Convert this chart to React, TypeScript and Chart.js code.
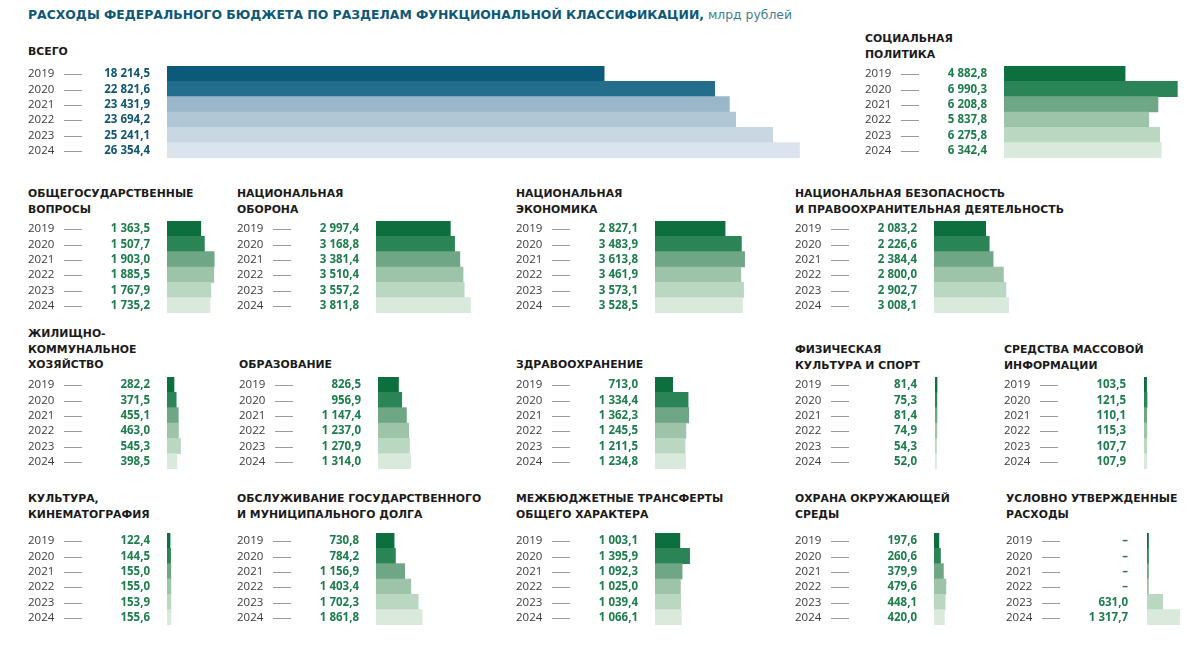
import React, { useEffect, useRef } from "react";
import { Chart, registerables } from "chart.js";

Chart.register(...registerables);

// ---------- DATA ----------
const years = ["2019", "2020", "2021", "2022", "2023", "2024"];
const totalValues = [18214.5, 22821.6, 23431.9, 23694.2, 25241.1, 26354.4];
const socialValues = [4882.8, 6990.3, 6208.8, 5837.8, 6275.8, 6342.4];
const generalValues = [1363.5, 1507.7, 1903.0, 1885.5, 1767.9, 1735.2];
const defenseValues = [2997.4, 3168.8, 3381.4, 3510.4, 3557.2, 3811.8];
const economyValues = [2827.1, 3483.9, 3613.8, 3461.9, 3573.1, 3528.5];
const securityValues = [2083.2, 2226.6, 2384.4, 2800.0, 2902.7, 3008.1];
const housingValues = [282.2, 371.5, 455.1, 463.0, 545.3, 398.5];
const educationValues = [826.5, 956.9, 1147.4, 1237.0, 1270.9, 1314.0];
const healthValues = [713.0, 1334.4, 1362.3, 1245.5, 1211.5, 1234.8];
const sportValues = [81.4, 75.3, 81.4, 74.9, 54.3, 52.0];
const mediaValues = [103.5, 121.5, 110.1, 115.3, 107.7, 107.9];
const cultureValues = [122.4, 144.5, 155.0, 155.0, 153.9, 155.6];
const debtValues = [730.8, 784.2, 1156.9, 1403.4, 1702.3, 1861.8];
const transfersValues = [1003.1, 1395.9, 1092.3, 1025.0, 1039.4, 1066.1];
const environmentValues = [197.6, 260.6, 379.9, 479.6, 448.1, 420.0];
const reservedValues: (number | null)[] = [null, null, null, null, 631.0, 1317.7];

const mainTitle = "РАСХОДЫ ФЕДЕРАЛЬНОГО БЮДЖЕТА ПО РАЗДЕЛАМ ФУНКЦИОНАЛЬНОЙ КЛАССИФИКАЦИИ,";
const unitText = " млрд рублей";

// ---------- STYLE ----------
const greenPalette = ["#0d6f3d", "#2b8456", "#6fa685", "#9dc4a9", "#bad7c2", "#d9eadd"];
const bluePalette = ["#0b5a79", "#236e8c", "#9ab6c9", "#b1c7d6", "#c8d7e2", "#dbe4ec"];
const greenText = "#1d7d4c";
const blueText = "#0f5673";
const PX_PER_UNIT = 0.0248;
const PX_PER_UNIT_TOTAL = 0.024;
const ROW_H = 15.4;

function fmt(v: number | null): string {
  if (v === null) return "–";
  const [i, d] = v.toFixed(1).split(".");
  const grouped = i.replace(/\B(?=(\d{3})+(?!\d))/g, " ");
  return grouped + "," + d;
}

type PanelProps = {
  title: string[];
  values: (number | null)[];
  x: number;
  rowTop: number;
  titleTop: number;
  barWidth: number;
  barOffset?: number;
  blue?: boolean;
};

function Panel(props: PanelProps) {
  const ref = useRef<HTMLCanvasElement | null>(null);
  const barOffset = props.barOffset ?? 139;
  const width = barOffset + props.barWidth;
  const height = Math.round(ROW_H * 6);
  useEffect(() => {
    if (!ref.current) return;
    const palette = props.blue ? bluePalette : greenPalette;
    const valueColor = props.blue ? blueText : greenText;
    const pxPerUnit = props.blue ? PX_PER_UNIT_TOTAL : PX_PER_UNIT;
    const labelsPlugin = {
      id: "rowLabels",
      afterDatasetsDraw(chart: any) {
        const ctx = chart.ctx;
        const yScale = chart.scales.y;
        ctx.save();
        years.forEach((yr, i) => {
          const y = yScale.getPixelForValue(i) + 0.5;
          ctx.textBaseline = "middle";
          ctx.textAlign = "left";
          ctx.fillStyle = "#3b3b3b";
          ctx.font = "11.5px 'Open Sans'";
          ctx.fillText(yr, 0, y);
          ctx.strokeStyle = "#9a9a9a";
          ctx.lineWidth = 1;
          ctx.beginPath();
          ctx.moveTo(36, Math.round(y) + 0.5);
          ctx.lineTo(54, Math.round(y) + 0.5);
          ctx.stroke();
          ctx.textAlign = "right";
          ctx.fillStyle = valueColor;
          ctx.font = "bold 11.5px 'Open Sans'";
          ctx.fillText(fmt(props.values[i]), 122, y);
        });
        ctx.restore();
      },
    };
    const chart = new Chart(ref.current, {
      type: "bar",
      data: {
        labels: years,
        datasets: [
          {
            data: props.values.map((v) => (v === null ? 0 : v)),
            backgroundColor: palette,
            borderWidth: 0,
            categoryPercentage: 1,
            barPercentage: 1,
            minBarLength: 1.5,
          },
        ],
      },
      options: {
        indexAxis: "y",
        responsive: false,
        animation: false,
        layout: { padding: { left: barOffset, right: 0, top: 0, bottom: 0 } },
        plugins: { legend: { display: false }, tooltip: { enabled: false }, title: { display: false } },
        scales: {
          x: { display: false, min: 0, max: props.barWidth / pxPerUnit },
          y: { display: false, offset: true },
        },
      },
      plugins: [labelsPlugin],
    } as any);
    return () => chart.destroy();
  }, []);
  return (
    <>
      <div
        style={{
          position: "absolute",
          left: props.x,
          top: props.titleTop,
          fontFamily: "'DejaVu Sans', sans-serif",
          fontWeight: "bold",
          fontSize: "10.85px",
          lineHeight: "15.7px",
          color: "#1a1a1a",
          whiteSpace: "nowrap",
        }}
      >
        {props.title.map((t, i) => (
          <div key={i}>{t}</div>
        ))}
      </div>
      <canvas
        ref={ref}
        width={width}
        height={height}
        style={{ position: "absolute", left: props.x, top: props.rowTop, width, height }}
      />
    </>
  );
}

const R1 = 65.5;
const R2 = 220.5;
const R3 = 376.5;
const R4 = 532.5;
const T = (centerY: number) => centerY - 6;

export default function App() {
  return (
    <div
      style={{
        position: "fixed",
        left: 0,
        top: 0,
        width: 1200,
        height: 648,
        background: "#ffffff",
        overflow: "hidden",
      }}
    >
      <div
        style={{
          position: "absolute",
          left: 28,
          top: 7,
          fontFamily: "'DejaVu Sans', sans-serif",
          fontSize: "12.4px",
          whiteSpace: "nowrap",
          color: "#0d5877",
        }}
      >
        <span style={{ fontWeight: "bold" }}>{mainTitle}</span>
        <span style={{ color: "#3f7f92" }}>{unitText}</span>
      </div>

      <Panel title={["ВСЕГО"]} values={totalValues} x={28} rowTop={R1} titleTop={T(50)} barWidth={660} blue />
      <Panel title={["СОЦИАЛЬНАЯ", "ПОЛИТИКА"]} values={socialValues} x={865} rowTop={R1} titleTop={T(37)} barWidth={190} />

      <Panel title={["ОБЩЕГОСУДАРСТВЕННЫЕ", "ВОПРОСЫ"]} values={generalValues} x={28} rowTop={R2} titleTop={T(192)} barWidth={65} />
      <Panel title={["НАЦИОНАЛЬНАЯ", "ОБОРОНА"]} values={defenseValues} x={237} rowTop={R2} titleTop={T(192)} barWidth={130} />
      <Panel title={["НАЦИОНАЛЬНАЯ", "ЭКОНОМИКА"]} values={economyValues} x={516} rowTop={R2} titleTop={T(192)} barWidth={130} />
      <Panel title={["НАЦИОНАЛЬНАЯ БЕЗОПАСНОСТЬ", "И ПРАВООХРАНИТЕЛЬНАЯ ДЕЯТЕЛЬНОСТЬ"]} values={securityValues} x={795} rowTop={R2} titleTop={T(192)} barWidth={130} />

      <Panel title={["ЖИЛИЩНО-", "КОММУНАЛЬНОЕ", "ХОЗЯЙСТВО"]} values={housingValues} x={28} rowTop={R3} titleTop={T(332)} barWidth={60} />
      <Panel title={["ОБРАЗОВАНИЕ"]} values={educationValues} x={239} rowTop={R3} titleTop={T(363)} barWidth={60} />
      <Panel title={["ЗДРАВООХРАНЕНИЕ"]} values={healthValues} x={516} rowTop={R3} titleTop={T(363)} barWidth={60} />
      <Panel title={["ФИЗИЧЕСКАЯ", "КУЛЬТУРА И СПОРТ"]} values={sportValues} x={795} rowTop={R3} titleTop={T(348)} barWidth={40} barOffset={140} />
      <Panel title={["СРЕДСТВА МАССОВОЙ", "ИНФОРМАЦИИ"]} values={mediaValues} x={1004} rowTop={R3} titleTop={T(348)} barWidth={40} barOffset={140} />

      <Panel title={["КУЛЬТУРА,", "КИНЕМАТОГРАФИЯ"]} values={cultureValues} x={28} rowTop={R4} titleTop={T(497)} barWidth={40} />
      <Panel title={["ОБСЛУЖИВАНИЕ ГОСУДАРСТВЕННОГО", "И МУНИЦИПАЛЬНОГО ДОЛГА"]} values={debtValues} x={237} rowTop={R4} titleTop={T(497)} barWidth={70} />
      <Panel title={["МЕЖБЮДЖЕТНЫЕ ТРАНСФЕРТЫ", "ОБЩЕГО ХАРАКТЕРА"]} values={transfersValues} x={516} rowTop={R4} titleTop={T(497)} barWidth={70} />
      <Panel title={["ОХРАНА ОКРУЖАЮЩЕЙ", "СРЕДЫ"]} values={environmentValues} x={795} rowTop={R4} titleTop={T(497)} barWidth={40} />
      <Panel title={["УСЛОВНО УТВЕРЖДЕННЫЕ", "РАСХОДЫ"]} values={reservedValues} x={1006} rowTop={R4} titleTop={T(497)} barWidth={50} barOffset={141} />
    </div>
  );
}
